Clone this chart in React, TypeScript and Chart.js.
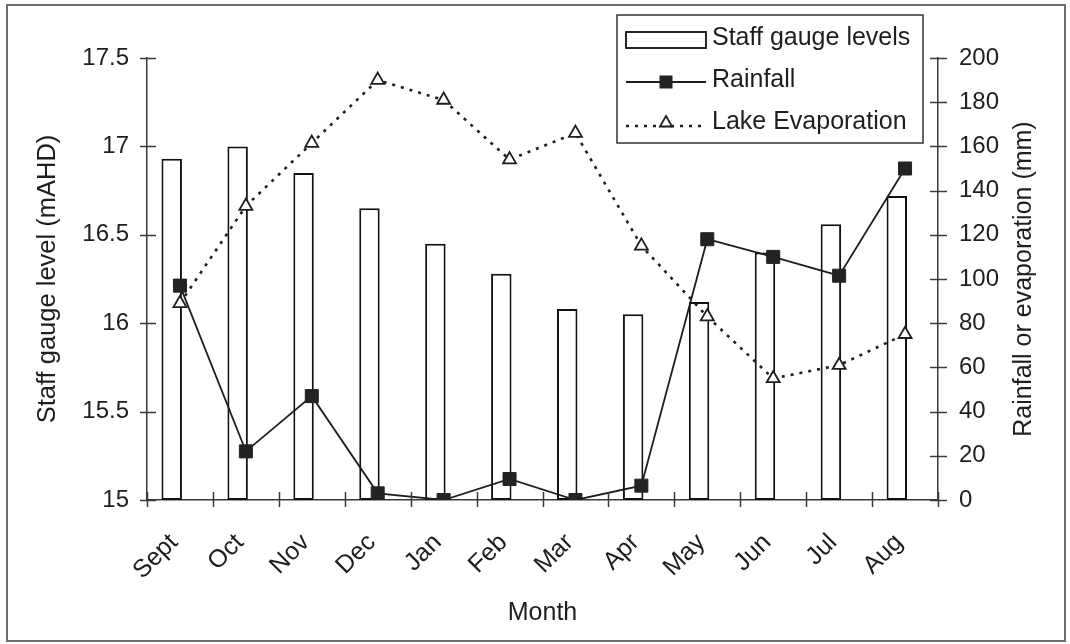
import React, { useEffect, useRef } from "react";
import { Chart, registerables } from "chart.js";

Chart.register(...registerables);

// ---------- data ----------
const months = ["Sept", "Oct", "Nov", "Dec", "Jan", "Feb", "Mar", "Apr", "May", "Jun", "Jul", "Aug"];
const staffGaugeLevels = [16.93, 17.0, 16.85, 16.65, 16.45, 16.28, 16.08, 16.05, 16.12, 16.4, 16.56, 16.72];
const rainfall = [97, 22, 47, 3, 0, 9.5, 0, 6.5, 118, 110, 101.5, 150];
const lakeEvaporation = [89, 133, 161.5, 190, 181, 154, 166, 115, 83, 55, 61, 75];
const leftAxisTicks = [15, 15.5, 16, 16.5, 17, 17.5];
const rightAxisTicks = [0, 20, 40, 60, 80, 100, 120, 140, 160, 180, 200];
const seriesNames = ["Staff gauge levels", "Rainfall", "Lake Evaporation"];
const axisTitles = ["Month", "Staff gauge level (mAHD)", "Rainfall or evaporation (mm)"];
const spacer = months.map(() => null);

const FONT = "'Liberation Sans', Arial, Helvetica, sans-serif";
const INK = "#1e1e1e";
const AXIS = "#3a3a3a";

const decorPlugin = {
  id: "decor",
  beforeDraw(chart: any) {
    const { ctx, width, height } = chart;
    ctx.save();
    ctx.fillStyle = "#ffffff";
    ctx.fillRect(0, 0, width, height);
    ctx.restore();
  },
  afterDraw(chart: any) {
    const ctx = chart.ctx;
    const area = chart.chartArea;
    const xs = chart.scales.x;
    const ys = chart.scales.y;
    const y1 = chart.scales.y1;
    ctx.save();
    // outer frame
    ctx.strokeStyle = "#6e6e6e";
    ctx.lineWidth = 2;
    ctx.strokeRect(7, 5, 1058, 636);

    // crossing tick marks
    ctx.strokeStyle = AXIS;
    ctx.lineWidth = 1.5;
    ctx.beginPath();
    ys.ticks.forEach((_: any, i: number) => {
      const p = Math.round(ys.getPixelForTick(i)) + 0.5;
      ctx.moveTo(area.left - 7, p);
      ctx.lineTo(area.left + 9, p);
    });
    y1.ticks.forEach((_: any, i: number) => {
      const p = Math.round(y1.getPixelForTick(i)) + 0.5;
      ctx.moveTo(area.right - 8, p);
      ctx.lineTo(area.right + 9, p);
    });
    for (let i = 0; i <= months.length; i++) {
      const px = Math.round(xs.getPixelForValue(i - 0.5)) + 0.5;
      ctx.moveTo(px, area.bottom - 8);
      ctx.lineTo(px, area.bottom + 7);
    }
    ctx.stroke();

    // right axis title, reading bottom-to-top
    ctx.fillStyle = INK;
    ctx.font = `25px ${FONT}`;
    ctx.textAlign = "center";
    ctx.textBaseline = "middle";
    ctx.save();
    ctx.translate(1024, (area.top + area.bottom) / 2);
    ctx.rotate(-Math.PI / 2);
    ctx.fillText(axisTitles[2], 0, 0);
    ctx.restore();

    // legend
    const bx = 617, by = 15, bw = 306, bh = 128;
    ctx.fillStyle = "#ffffff";
    ctx.fillRect(bx, by, bw, bh);
    ctx.strokeStyle = "#333";
    ctx.lineWidth = 1.5;
    ctx.strokeRect(bx, by, bw, bh);

    const ds = chart.data.datasets;
    const sx0 = 626, sx1 = 706, mid = 666;
    // bar sample
    ctx.fillStyle = ds[0].backgroundColor;
    ctx.strokeStyle = ds[0].borderColor;
    ctx.lineWidth = 1.8;
    ctx.fillRect(sx0, 32, sx1 - sx0, 16);
    ctx.strokeRect(sx0, 32, sx1 - sx0, 16);
    // rainfall sample
    ctx.strokeStyle = ds[2].borderColor;
    ctx.lineWidth = ds[2].borderWidth;
    ctx.beginPath();
    ctx.moveTo(sx0, 82);
    ctx.lineTo(sx1, 82);
    ctx.stroke();
    ctx.fillStyle = ds[2].pointBackgroundColor;
    ctx.fillRect(mid - 6.5, 82 - 6.5, 13, 13);
    // evaporation sample
    ctx.strokeStyle = ds[3].borderColor;
    ctx.lineWidth = ds[3].borderWidth;
    ctx.setLineDash(ds[3].borderDash);
    ctx.beginPath();
    ctx.moveTo(sx0, 126);
    ctx.lineTo(sx1, 126);
    ctx.stroke();
    ctx.setLineDash([]);
    const r = 7;
    const cy = 123;
    ctx.fillStyle = "#fff";
    ctx.lineWidth = 1.8;
    ctx.beginPath();
    ctx.moveTo(mid, cy - r);
    ctx.lineTo(mid + r * 0.866, cy + r * 0.5);
    ctx.lineTo(mid - r * 0.866, cy + r * 0.5);
    ctx.closePath();
    ctx.fill();
    ctx.stroke();

    ctx.fillStyle = INK;
    ctx.font = `25px ${FONT}`;
    ctx.textAlign = "left";
    ctx.textBaseline = "middle";
    ctx.fillText(seriesNames[0], 712, 38);
    ctx.fillText(seriesNames[1], 712, 80);
    ctx.fillText(seriesNames[2], 712, 122);
    ctx.restore();
  },
};

export default function App() {
  const ref = useRef<HTMLCanvasElement | null>(null);

  useEffect(() => {
    document.body.style.margin = "0";
    const canvas = ref.current;
    if (!canvas) return;
    const tickFont = { family: FONT, size: 24 };
    const titleFont = { family: FONT, size: 25 };
    const fmt = (v: any) => String(Math.round(Number(v) * 100) / 100);
    const chart = new Chart(canvas, {
      type: "bar",
      data: {
        labels: months,
        datasets: [
          {
            type: "bar",
            label: seriesNames[0],
            data: staffGaugeLevels,
            yAxisID: "y",
            base: leftAxisTicks[0],
            backgroundColor: "#ffffff",
            borderColor: "#111111",
            borderWidth: 2,
            borderSkipped: false,
            categoryPercentage: 0.5,
            barPercentage: 1.24,
            order: 3,
          },
          {
            type: "bar",
            label: "spacer",
            data: spacer,
            yAxisID: "y",
            backgroundColor: "rgba(0,0,0,0)",
            borderWidth: 0,
            categoryPercentage: 0.5,
            barPercentage: 1.24,
            order: 4,
          },
          {
            type: "line",
            label: seriesNames[1],
            data: rainfall,
            yAxisID: "y1",
            borderColor: INK,
            borderWidth: 1.8,
            pointStyle: "rect",
            pointRadius: 9.2,
            pointBackgroundColor: "#232323",
            pointBorderColor: "#232323",
            pointBorderWidth: 1,
            tension: 0,
            order: 1,
          },
          {
            type: "line",
            label: seriesNames[2],
            data: lakeEvaporation,
            yAxisID: "y1",
            borderColor: INK,
            borderWidth: 2.6,
            borderDash: [3, 6],
            pointStyle: "triangle",
            pointRadius: 7.5,
            pointBackgroundColor: "#ffffff",
            pointBorderColor: INK,
            pointBorderWidth: 1.8,
            tension: 0,
            order: 2,
          },
        ],
      },
      options: {
        animation: false,
        responsive: false,
        maintainAspectRatio: false,
        layout: { padding: { top: 58, left: 0, right: 0, bottom: 0 } },
        plugins: {
          legend: { display: false },
          tooltip: { enabled: false },
        },
        scales: {
          x: {
            type: "category",
            offset: true,
            grid: { display: false, drawTicks: false },
            border: { display: true, color: AXIS, width: 1.5 },
            ticks: {
              font: { family: FONT, size: 25 },
              color: INK,
              autoSkip: false,
              minRotation: 45,
              maxRotation: 45,
              padding: 28,
              labelOffset: -6,
            },
            title: {
              display: true,
              text: axisTitles[0],
              font: titleFont,
              color: INK,
              padding: { top: 0, bottom: 16 },
            },
            afterFit: (s: any) => {
              s.height = 144;
            },
          },
          y: {
            type: "linear",
            position: "left",
            min: leftAxisTicks[0],
            max: leftAxisTicks[leftAxisTicks.length - 1],
            grid: { display: false, drawTicks: false },
            border: { display: true, color: AXIS, width: 1.5 },
            ticks: {
              stepSize: leftAxisTicks[1] - leftAxisTicks[0],
              font: tickFont,
              color: INK,
              padding: 18,
              callback: fmt,
            },
            title: {
              display: true,
              text: axisTitles[1],
              font: { family: FONT, size: 25.5 },
              color: INK,
              padding: { top: 33, bottom: 0 },
            },
            afterFit: (s: any) => {
              s.width = 147;
            },
          },
          y1: {
            type: "linear",
            position: "right",
            min: rightAxisTicks[0],
            max: rightAxisTicks[rightAxisTicks.length - 1],
            grid: { display: false, drawTicks: false },
            border: { display: true, color: AXIS, width: 1.5 },
            ticks: {
              stepSize: rightAxisTicks[1] - rightAxisTicks[0],
              font: tickFont,
              color: INK,
              padding: 21,
              callback: fmt,
            },
            title: { display: false },
            afterFit: (s: any) => {
              s.width = 132;
            },
          },
        },
      },
      plugins: [decorPlugin],
    } as any);
    return () => chart.destroy();
  }, []);

  return (
    <div style={{ width: 1070, height: 644, position: "relative" }}>
      <canvas ref={ref} width={1070} height={644} style={{ display: "block", width: 1070, height: 644 }} />
    </div>
  );
}
